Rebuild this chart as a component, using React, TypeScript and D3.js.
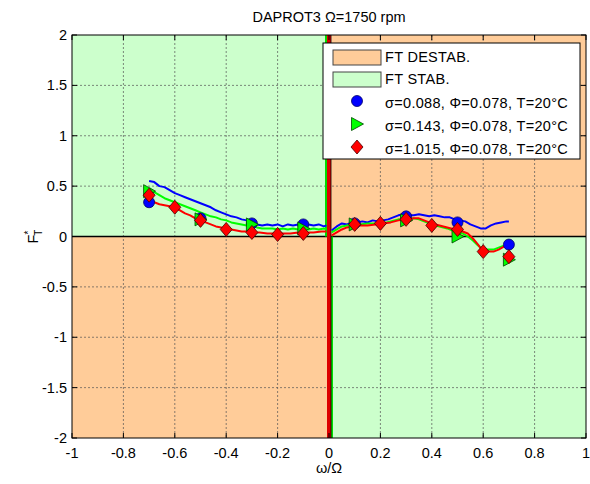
import React from "react";
import * as d3 from "d3";

// Axis ticks
const xTicks = [-1, -0.8, -0.6, -0.4, -0.2, 0, 0.2, 0.4, 0.6, 0.8, 1];
const yTicks = [-2, -1.5, -1, -0.5, 0, 0.5, 1, 1.5, 2];

// Continuous measured curves (left branch w<0, right branch w>0)
const blueLeft: [number, number][] = [[-0.70,0.55],[-0.68,0.54],[-0.66,0.50],[-0.64,0.49],[-0.62,0.46],[-0.60,0.43],[-0.58,0.41],[-0.56,0.39],[-0.54,0.37],[-0.52,0.35],[-0.50,0.33],[-0.48,0.31],[-0.46,0.29],[-0.44,0.26],[-0.42,0.24],[-0.40,0.22],[-0.38,0.20],[-0.36,0.19],[-0.34,0.17],[-0.32,0.16],[-0.30,0.14],[-0.28,0.12],[-0.26,0.11],[-0.24,0.12],[-0.22,0.11],[-0.20,0.12],[-0.18,0.10],[-0.16,0.12],[-0.14,0.11],[-0.12,0.12],[-0.10,0.10],[-0.08,0.12],[-0.06,0.11],[-0.04,0.12],[-0.02,0.10],[-0.01,0.11]];
const blueRight: [number, number][] = [[0.01,0.06],[0.03,0.10],[0.05,0.13],[0.07,0.12],[0.09,0.14],[0.11,0.14],[0.13,0.15],[0.15,0.14],[0.17,0.16],[0.19,0.15],[0.21,0.16],[0.23,0.17],[0.25,0.19],[0.27,0.21],[0.29,0.22],[0.31,0.21],[0.33,0.21],[0.35,0.22],[0.37,0.21],[0.39,0.20],[0.41,0.21],[0.43,0.20],[0.45,0.19],[0.47,0.19],[0.49,0.17],[0.51,0.16],[0.53,0.15],[0.55,0.12],[0.57,0.10],[0.59,0.08],[0.61,0.08],[0.63,0.11],[0.65,0.13],[0.67,0.14],[0.69,0.15],[0.70,0.15]];
const greenLeft: [number, number][] = [[-0.70,0.48],[-0.68,0.44],[-0.66,0.41],[-0.64,0.38],[-0.62,0.36],[-0.60,0.34],[-0.58,0.32],[-0.56,0.30],[-0.54,0.28],[-0.52,0.26],[-0.50,0.24],[-0.48,0.22],[-0.46,0.20],[-0.44,0.19],[-0.42,0.17],[-0.40,0.16],[-0.38,0.14],[-0.36,0.13],[-0.34,0.12],[-0.32,0.11],[-0.30,0.10],[-0.28,0.09],[-0.26,0.08],[-0.24,0.08],[-0.22,0.08],[-0.20,0.07],[-0.18,0.08],[-0.16,0.07],[-0.14,0.08],[-0.12,0.07],[-0.10,0.08],[-0.08,0.07],[-0.06,0.08],[-0.04,0.07],[-0.02,0.08],[-0.01,0.07]];
const greenRight: [number, number][] = [[0.01,0.04],[0.03,0.07],[0.05,0.10],[0.07,0.11],[0.09,0.12],[0.12,0.12],[0.15,0.13],[0.18,0.13],[0.21,0.13],[0.24,0.15],[0.27,0.17],[0.30,0.17],[0.33,0.18],[0.35,0.17],[0.37,0.15],[0.40,0.12],[0.43,0.10],[0.46,0.08],[0.49,0.05],[0.52,0.03],[0.54,0.00],[0.56,-0.04],[0.58,-0.09],[0.60,-0.13],[0.62,-0.13],[0.64,-0.13],[0.66,-0.11],[0.68,-0.09]];
const redLeft: [number, number][] = [[-0.70,0.37],[-0.68,0.34],[-0.66,0.32],[-0.64,0.31],[-0.62,0.30],[-0.60,0.28],[-0.58,0.26],[-0.56,0.23],[-0.54,0.21],[-0.52,0.18],[-0.50,0.16],[-0.48,0.14],[-0.46,0.12],[-0.44,0.10],[-0.42,0.09],[-0.40,0.08],[-0.38,0.07],[-0.36,0.06],[-0.34,0.05],[-0.32,0.05],[-0.30,0.04],[-0.27,0.04],[-0.24,0.03],[-0.21,0.03],[-0.18,0.03],[-0.15,0.03],[-0.12,0.04],[-0.09,0.04],[-0.06,0.04],[-0.03,0.05],[-0.01,0.05]];
const redRight: [number, number][] = [[0.01,0.01],[0.03,0.04],[0.05,0.07],[0.07,0.09],[0.09,0.10],[0.12,0.11],[0.15,0.11],[0.18,0.12],[0.21,0.13],[0.24,0.14],[0.27,0.16],[0.30,0.17],[0.33,0.18],[0.35,0.18],[0.37,0.16],[0.40,0.13],[0.43,0.11],[0.46,0.09],[0.49,0.07],[0.52,0.05],[0.54,0.03],[0.56,-0.02],[0.58,-0.08],[0.60,-0.15],[0.62,-0.15],[0.64,-0.15],[0.66,-0.13],[0.68,-0.10],[0.69,-0.09]];

// Discrete test points
const blueX = [-0.7, -0.5, -0.3, -0.1, 0.1, 0.3, 0.5, 0.7];
const blueY = [0.34, 0.18, 0.13, 0.12, 0.13, 0.20, 0.14, -0.08];
const greenX = [-0.7, -0.5, -0.3, -0.1, 0.1, 0.3, 0.5, 0.7];
const greenY = [0.45, 0.17, 0.12, 0.08, 0.12, 0.16, 0.0, -0.23];
const redX = [-0.7, -0.6, -0.5, -0.4, -0.3, -0.2, -0.1, 0.1, 0.2, 0.3, 0.4, 0.5, 0.6, 0.7];
const redY = [0.41, 0.29, 0.16, 0.07, 0.04, 0.02, 0.03, 0.12, 0.13, 0.17, 0.11, 0.07, -0.15, -0.2];

const legendLabels = [
  "FT DESTAB.",
  "FT STAB.",
  "σ=0.088, Φ=0.078, T=20°C",
  "σ=0.143, Φ=0.078, T=20°C",
  "σ=1.015, Φ=0.078, T=20°C",
];

const ORANGE = "#ffcc99";
const LGREEN = "#ccffcc";
const FONT = "Arial, 'Liberation Sans', sans-serif";
const FS = 14.5;

export default function App() {
  const W = 590, H = 484;
  const L = 72, R = 586, T = 35, B = 438;
  const x = d3.scaleLinear().domain([-1, 1]).range([L, R]);
  const y = d3.scaleLinear().domain([-2, 2]).range([B, T]);
  const line = d3.line<[number, number]>().x(d => x(d[0])).y(d => y(d[1]));
  const x0 = x(0), y0 = y(0);

  const circle = (cx: number, cy: number, k: string) => (
    <circle key={k} cx={cx} cy={cy} r={5.5} fill="#0000ff" stroke="#000066" strokeWidth={0.8} />
  );
  const tri = (cx: number, cy: number, k: string) => (
    <path key={k} d={`M${cx - 5.5},${cy - 6.5}L${cx + 6.5},${cy}L${cx - 5.5},${cy + 6.5}Z`} fill="#00ff00" stroke="#004400" strokeWidth={0.8} />
  );
  const dia = (cx: number, cy: number, k: string) => (
    <path key={k} d={`M${cx},${cy - 7}L${cx + 6},${cy}L${cx},${cy + 7}L${cx - 6},${cy}Z`} fill="#ff0000" stroke="#440000" strokeWidth={0.8} />
  );

  const fmt = (v: number) => String(v);

  return (
    <svg width={W} height={H} style={{ position: "absolute", left: 0, top: 0, background: "#fff" }} fontFamily={FONT}>
      {/* stability quadrants */}
      <rect x={L} y={T} width={x0 - L} height={y0 - T} fill={LGREEN} />
      <rect x={x0} y={T} width={R - x0} height={y0 - T} fill={ORANGE} />
      <rect x={L} y={y0} width={x0 - L} height={B - y0} fill={ORANGE} />
      <rect x={x0} y={y0} width={R - x0} height={B - y0} fill={LGREEN} />

      {/* grid */}
      {xTicks.slice(1, -1).map(t => (
        <line key={"gx" + t} x1={x(t)} x2={x(t)} y1={T} y2={B} stroke="#555" strokeWidth={0.7} strokeDasharray="2,2" />
      ))}
      {yTicks.slice(1, -1).map(t => (
        <line key={"gy" + t} x1={L} x2={R} y1={y(t)} y2={y(t)} stroke="#555" strokeWidth={0.7} strokeDasharray="2,2" />
      ))}

      {/* zero lines */}
      <line x1={L} x2={R} y1={y0} y2={y0} stroke="#000" strokeWidth={1.3} />
      <line x1={x0 - 3} x2={x0 - 3} y1={T} y2={y0} stroke="#00dd00" strokeWidth={2} />
      <line x1={x0 + 3} x2={x0 + 3} y1={y0} y2={B} stroke="#00dd00" strokeWidth={2} />
      <line x1={x0} x2={x0} y1={T} y2={B} stroke="#dd0000" strokeWidth={4} />
      <line x1={x0 + 2} x2={x0 + 2} y1={T} y2={B} stroke="#000" strokeWidth={0.8} />

      {/* curves */}
      <g fill="none" strokeWidth={2} strokeLinejoin="round">
        <path d={line(blueLeft) || ""} stroke="#0000ff" />
        <path d={line(blueRight) || ""} stroke="#0000ff" />
        <path d={line(greenLeft) || ""} stroke="#00ff00" />
        <path d={line(greenRight) || ""} stroke="#00ff00" />
        <path d={line(redLeft) || ""} stroke="#ff0000" />
        <path d={line(redRight) || ""} stroke="#ff0000" />
      </g>

      {/* markers */}
      {blueX.map((v, i) => circle(x(v), y(blueY[i]), "b" + i))}
      {greenX.map((v, i) => tri(x(v), y(greenY[i]), "g" + i))}
      {redX.map((v, i) => dia(x(v), y(redY[i]), "r" + i))}

      {/* axes box & ticks */}
      <rect x={L} y={T} width={R - L} height={B - T} fill="none" stroke="#000" strokeWidth={1} />
      {xTicks.map(t => (
        <g key={"tx" + t}>
          <line x1={x(t)} x2={x(t)} y1={B} y2={B - 5} stroke="#000" />
          <line x1={x(t)} x2={x(t)} y1={T} y2={T + 5} stroke="#000" />
          <text x={x(t)} y={B + 20} fontSize={FS} textAnchor="middle">{fmt(t)}</text>
        </g>
      ))}
      {yTicks.map(t => (
        <g key={"ty" + t}>
          <line x1={L} x2={L + 5} y1={y(t)} y2={y(t)} stroke="#000" />
          <line x1={R} x2={R - 5} y1={y(t)} y2={y(t)} stroke="#000" />
          <text x={L - 5} y={y(t) + 5} fontSize={FS} textAnchor="end">{fmt(t)}</text>
        </g>
      ))}

      {/* title and labels */}
      <text x={x0} y={22} fontSize={FS} textAnchor="middle">DAPROT3 Ω=1750 rpm</text>
      <text x={x0} y={473} fontSize={FS} textAnchor="middle">ω/Ω</text>
      <g transform={`translate(38, ${y0}) rotate(-90)`}>
        <text x={0} y={0} fontSize={FS} textAnchor="middle">
          F<tspan fontSize={10} dy={-6}>*</tspan><tspan fontSize={10} dx={-5} dy={10}>T</tspan>
        </text>
      </g>

      {/* legend */}
      <g>
        <rect x={323} y={43} width={257} height={116} fill="#fff" stroke="#000" strokeWidth={1} />
        <rect x={333} y={50} width={48} height={15} fill={ORANGE} stroke="#444" strokeWidth={1} />
        <rect x={333} y={72} width={48} height={15} fill={LGREEN} stroke="#444" strokeWidth={1} />
        {circle(357, 101, "lb")}
        {tri(357, 124, "lg")}
        {dia(357, 147, "lr")}
        {legendLabels.map((s, i) => (
          <text key={"lt" + i} x={385} y={[62, 84, 108, 131, 154][i]} fontSize={FS} letterSpacing={0.3}>{s}</text>
        ))}
      </g>
    </svg>
  );
}
